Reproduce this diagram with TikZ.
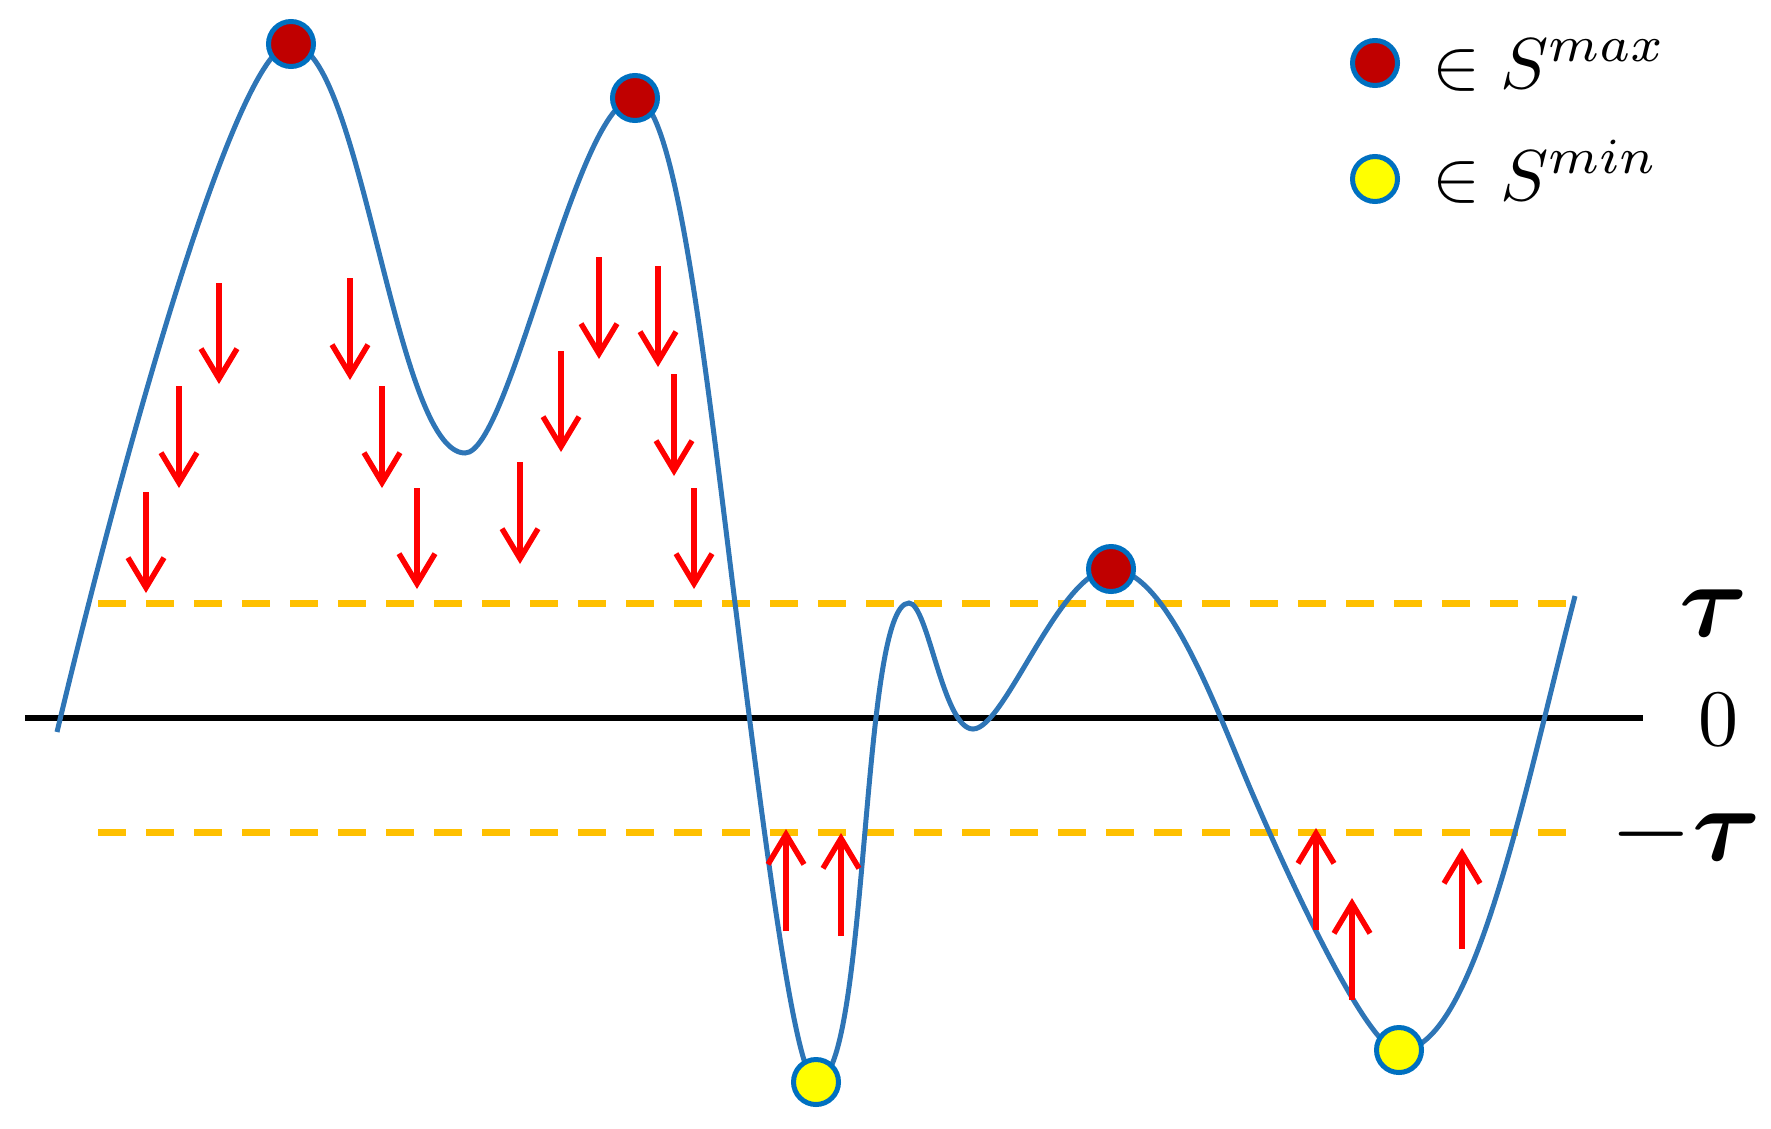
\documentclass[tikz,border=0pt]{standalone}
\usepackage{amsmath,bm}
\usetikzlibrary{arrows.meta}
\definecolor{curveblue}{HTML}{2E75B6}
\definecolor{mkblue}{HTML}{0070C0}
\definecolor{mkred}{HTML}{C00000}
\definecolor{mkyellow}{HTML}{FFFF00}
\definecolor{dashor}{HTML}{FFC000}
\definecolor{arrred}{HTML}{FF0000}
\begin{document}
\begin{tikzpicture}[x=1pt,y=-1pt,
  mk/.style={circle, draw=mkblue, line width=5pt, minimum size=45pt, inner sep=0pt},
  maxmk/.style={mk, fill=mkred},
  minmk/.style={mk, fill=mkyellow},
  thr/.style={dashor, line width=7pt, dash pattern=on 28pt off 20pt},
  axisline/.style={black, line width=5.5pt},
  sig/.style={curveblue, line width=5pt},
  push/.style={arrred, line width=5.5pt, -{Straight Barb[length=30pt,width=36pt]}},
  legtext/.style={anchor=base west, inner sep=0pt},
  biglbl/.style={inner sep=0pt}]
\useasboundingbox (0,0) rectangle (1771,1128);
% threshold and zero lines
\draw[thr] (98,603) -- (1566,603);
\draw[thr] (98,832) -- (1566,832);
\draw[axisline] (25,718) -- (1643,718);
% signal curve
\draw[sig] (57,732) .. controls (136,402) and (241,44) .. (291,44)
 .. controls (361,44) and (395,453) .. (465,453)
 .. controls (510,453) and (577,98) .. (635,98)
 .. controls (675,98) and (704,353) .. (735,603)
 .. controls (766,853) and (796,1082) .. (816,1082)
 .. controls (869,1082) and (860,603) .. (909,603)
 .. controls (928,603) and (943,729) .. (973,729)
 .. controls (1005,729) and (1060,569) .. (1111,569)
 .. controls (1166,569) and (1216,708) .. (1250,788)
 .. controls (1293,888) and (1369,1051) .. (1399,1051)
 .. controls (1474,1051) and (1523,796) .. (1575,596);
% extrema markers
\node[maxmk] (p1) at (291,44) {};
\node[maxmk] (p2) at (635,98) {};
\node[maxmk] (p3) at (1111,569) {};
\node[minmk] (m1) at (816,1082) {};
\node[minmk] (m2) at (1399,1050) {};
% downward arrows
\draw[push] (219,283) -- (219,384);
\draw[push] (179,386) -- (179,488);
\draw[push] (146,492) -- (146,593);
\draw[push] (350,278) -- (350,380);
\draw[push] (382,386) -- (382,488);
\draw[push] (417,488) -- (417,589);
\draw[push] (520,462) -- (520,564);
\draw[push] (561,351) -- (561,452);
\draw[push] (599,257) -- (599,359);
\draw[push] (658,266) -- (658,367);
\draw[push] (674,374) -- (674,476);
\draw[push] (694,488) -- (694,589);
% upward arrows
\draw[push] (786,931) -- (786,829);
\draw[push] (841,936) -- (841,833);
\draw[push] (1316,930) -- (1316,828);
\draw[push] (1352,1000) -- (1352,898);
\draw[push] (1462,949) -- (1462,848);
% legend
\node[maxmk] (lmax) at (1375,63) {};
\node[minmk] (lmin) at (1375,179) {};
\node[legtext] (tmax) at (1432,88) {\scalebox{7.2}{$\in S^{max}$}};
\node[legtext] (tmin) at (1432,200) {\scalebox{7.2}{$\in S^{min}$}};
% level labels
\node[biglbl] (ltau) at (1714,613) {\scalebox{10.5}{$\bm{\tau}$}};
\node[biglbl] (lzero) at (1718,720) {\scalebox{8}{0}};
\node[biglbl] (lmtau) at (1686,834) {\scalebox{10.5}{$-\bm{\tau}$}};
\end{tikzpicture}
\end{document}
